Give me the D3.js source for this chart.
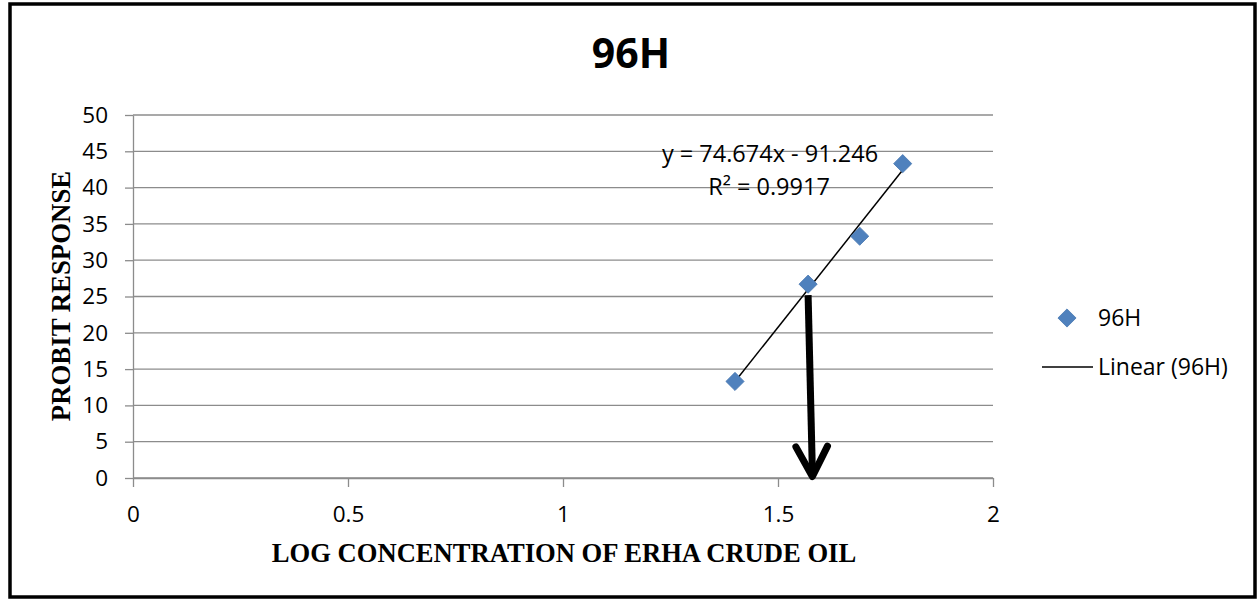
<!DOCTYPE html>
<html>
<head>
<meta charset="utf-8">
<script src="https://cdn.jsdelivr.net/npm/d3@7"></script>
<style>
  body { margin: 0; background: #fff; }
  svg text { font-family: "Open Sans", "Noto Sans", sans-serif; }
</style>
</head>
<body>
<svg id="chart" width="1257" height="600"></svg>
<script>
// data
var logConc = [1.40, 1.57, 1.69, 1.79];
var probit = [13.3, 26.7, 33.3, 43.3];
var seriesName = "96H";
var xTicks = [0, 0.5, 1, 1.5, 2];
var yTicks = [0, 5, 10, 15, 20, 25, 30, 35, 40, 45, 50];
var slope = 74.674;
var intercept = -91.246;
var rSquared = "0.9917";
// arrow annotation (start / end in data units)
var arrowFrom = [1.57, 25.2];
var arrowTo = [1.58, 0.2];

var svg = d3.select("#chart");

// outer frame
svg.append("rect")
    .attr("x", 10).attr("y", 4)
    .attr("width", 1245).attr("height", 593)
    .attr("fill", "none")
    .attr("stroke", "#000")
    .attr("stroke-width", 3.5);

var x = d3.scaleLinear().domain([0, 2]).range([133, 993]);
var y = d3.scaleLinear().domain([0, 50]).range([478, 115]);

// gridlines
svg.append("g").selectAll("line")
    .data(yTicks)
    .enter().append("line")
    .attr("x1", x(0)).attr("x2", x(2))
    .attr("y1", d => y(d)).attr("y2", d => y(d))
    .attr("stroke", "#8c8c8c")
    .attr("stroke-width", 1.3);

// y axis
var yAxis = svg.append("g")
    .attr("transform", "translate(" + x(0) + ",0)")
    .call(d3.axisLeft(y).tickValues(yTicks).tickSizeInner(8).tickSizeOuter(0).tickPadding(17));

// x axis
var xAxis = svg.append("g")
    .attr("transform", "translate(0," + y(0) + ")")
    .call(d3.axisBottom(x).tickValues(xTicks).tickSizeInner(9).tickSizeOuter(0).tickPadding(19)
        .tickFormat(d3.format("")));

[yAxis, xAxis].forEach(function(ax)
{
    ax.select(".domain").attr("stroke", "#8c8c8c").attr("stroke-width", 1.3);
    ax.selectAll(".tick line").attr("stroke", "#8c8c8c").attr("stroke-width", 1.3);
    ax.selectAll(".tick text")
        .attr("fill", "#000")
        .style("font-family", "'Open Sans', sans-serif")
        .style("font-size", "22.5px");
});

// title
svg.append("text")
    .attr("x", 631).attr("y", 68)
    .attr("text-anchor", "middle")
    .style("font-size", "41px")
    .style("font-weight", "bold")
    .text("96H");

// axis titles
svg.append("text")
    .attr("x", 564).attr("y", 562)
    .attr("text-anchor", "middle")
    .style("font-family", "'Liberation Serif', 'Times New Roman', serif")
    .style("font-weight", "bold")
    .style("font-size", "26.6px")
    .text("LOG CONCENTRATION OF ERHA CRUDE OIL");

svg.append("text")
    .attr("transform", "translate(70,296) rotate(-90)")
    .attr("text-anchor", "middle")
    .style("font-family", "'Liberation Serif', 'Times New Roman', serif")
    .style("font-weight", "bold")
    .style("font-size", "26.8px")
    .text("PROBIT RESPONSE");

// trendline
var xMin = d3.min(logConc), xMax = d3.max(logConc);
svg.append("line")
    .attr("x1", x(xMin)).attr("y1", y(slope * xMin + intercept))
    .attr("x2", x(xMax)).attr("y2", y(slope * xMax + intercept))
    .attr("stroke", "#000")
    .attr("stroke-width", 1.5);

// points
var diamond = d3.symbol().type(d3.symbolSquare).size(165);
svg.append("g").selectAll("path")
    .data(logConc)
    .enter().append("path")
    .attr("d", diamond)
    .attr("transform", (d, i) => "translate(" + x(d) + "," + y(probit[i]) + ") rotate(45)")
    .attr("fill", "#4f81bd")
    .attr("stroke", "#4a7ab2")
    .attr("stroke-width", 0.8);

// equation label
svg.append("text")
    .attr("x", 770).attr("y", 162)
    .attr("text-anchor", "middle")
    .style("font-size", "23.5px")
    .text("y = " + slope + "x - " + Math.abs(intercept));
svg.append("text")
    .attr("x", 769).attr("y", 195)
    .attr("text-anchor", "middle")
    .style("font-size", "23.5px")
    .text("R\u00b2 = " + rSquared);

// arrow
var ax1 = x(arrowFrom[0]), ay1 = y(arrowFrom[1]);
var ax2 = x(arrowTo[0]), ay2 = y(arrowTo[1]);
var ang = Math.atan2(ay2 - ay1, ax2 - ax1);
var headLen = 34, headAng = Math.PI / 6.5;
var arrow = svg.append("g")
    .attr("stroke", "#000")
    .attr("stroke-width", 7)
    .attr("stroke-linecap", "round")
    .attr("stroke-linejoin", "round")
    .attr("fill", "none");
arrow.append("line")
    .attr("x1", ax1).attr("y1", ay1)
    .attr("x2", ax2).attr("y2", ay2 - 4)
    .attr("stroke-linecap", "butt");
arrow.append("path")
    .attr("d", d3.line()([
        [ax2 - headLen * Math.cos(ang - headAng), ay2 - headLen * Math.sin(ang - headAng)],
        [ax2, ay2],
        [ax2 - headLen * Math.cos(ang + headAng), ay2 - headLen * Math.sin(ang + headAng)]
    ]));

// legend
var legend = svg.append("g");
legend.append("path")
    .attr("d", diamond)
    .attr("transform", "translate(1067,318) rotate(45)")
    .attr("fill", "#4f81bd")
    .attr("stroke", "#4a7ab2")
    .attr("stroke-width", 0.8);
legend.append("text")
    .attr("x", 1098).attr("y", 326)
    .style("font-size", "23px")
    .text(seriesName);
legend.append("line")
    .attr("x1", 1042).attr("x2", 1093)
    .attr("y1", 367).attr("y2", 367)
    .attr("stroke", "#000")
    .attr("stroke-width", 1.5);
legend.append("text")
    .attr("x", 1098).attr("y", 375)
    .style("font-size", "23px")
    .text("Linear (" + seriesName + ")");
</script>
</body>
</html>
